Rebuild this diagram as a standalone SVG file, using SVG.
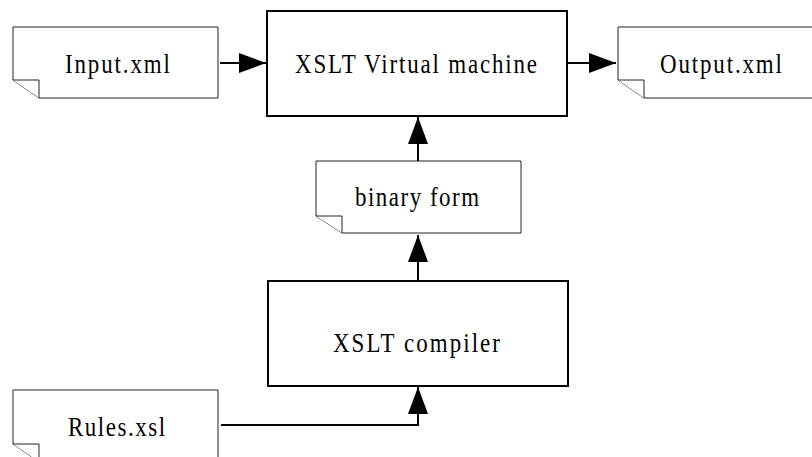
<svg xmlns="http://www.w3.org/2000/svg" width="812" height="457" viewBox="0 0 812 457">
<style>
.doc{fill:#fff;stroke:#222;stroke-width:1}
.box{fill:#fff;stroke:#000;stroke-width:2}
.lbl{font-family:"Liberation Serif","Times New Roman",serif;font-size:27px;fill:#000;text-anchor:middle}
.con{fill:none;stroke:#000;stroke-width:2}
</style>
<defs>
<marker id="ah" markerUnits="userSpaceOnUse" markerWidth="28" markerHeight="20" refX="27" refY="10" orient="auto">
<path d="M0,0 L27,10 L0,20 Z" fill="#000"/>
</marker>
</defs>
<rect width="812" height="457" fill="#fff"/>
<g id="input">
<path class="doc" d="M13,27 H218 V98 H39 L13,80 Z"/>
<path class="doc" d="M13,80 H39 V98"/>
<text class="lbl" transform="scale(0.85,1)" x="138.2" y="73" textLength="123.5" lengthAdjust="spacing">Input.xml</text>
</g>
<g id="vm">
<rect class="box" x="267" y="11" width="300" height="105"/>
<text class="lbl" transform="scale(0.85,1)" x="489.4" y="73" textLength="284.7" lengthAdjust="spacing">XSLT Virtual machine</text>
</g>
<g id="output">
<path class="doc" d="M618,27 H820 V98 H644 L618,80 Z"/>
<path class="doc" d="M618,80 H644 V98"/>
<text class="lbl" transform="scale(0.85,1)" x="848.2" y="73" textLength="143.5" lengthAdjust="spacing">Output.xml</text>
</g>
<g id="binary">
<path class="doc" d="M316,161 H521 V233 H342 L316,216 Z"/>
<path class="doc" d="M316,216 H342 V233"/>
<text class="lbl" transform="scale(0.85,1)" x="490.6" y="206" textLength="145.9" lengthAdjust="spacing">binary form</text>
</g>
<g id="compiler">
<rect class="box" x="268" y="281" width="300" height="105"/>
<text class="lbl" transform="scale(0.85,1)" x="490" y="352" textLength="196.5" lengthAdjust="spacing">XSLT compiler</text>
</g>
<g id="rules">
<path class="doc" d="M13,390 H218 V462 H39 L13,444 Z"/>
<path class="doc" d="M13,444 H39 V462"/>
<text class="lbl" transform="scale(0.85,1)" x="137.1" y="436" textLength="114.1" lengthAdjust="spacing">Rules.xsl</text>
</g>
<g id="connectors">
<path class="con" d="M220,63 H266" marker-end="url(#ah)"/>
<path class="con" d="M567,63 H616" marker-end="url(#ah)"/>
<path class="con" d="M418,161 V117" marker-end="url(#ah)"/>
<path class="con" d="M418,281 V235" marker-end="url(#ah)"/>
<path class="con" d="M221,425 H418 V387" marker-end="url(#ah)"/>
</g>
</svg>
